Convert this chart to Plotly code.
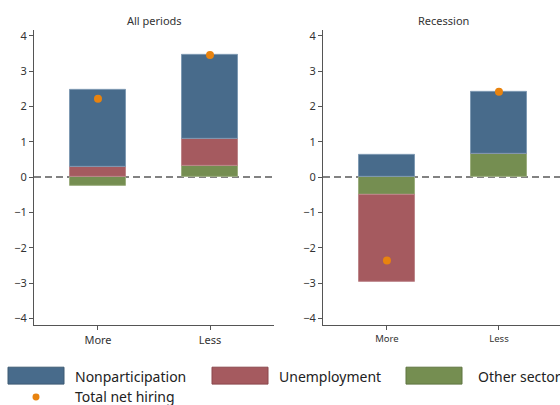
import plotly.graph_objects as go

W, H = 560, 405

categories = ["More", "Less"]
panels = ["All periods", "Recession"]

# values per panel: [More, Less]
other_sector = {"All periods": [-0.25, 0.32], "Recession": [-0.49, 0.65]}
unemployment = {"All periods": [0.30, 0.77], "Recession": [-2.49, 0.0]}
nonparticipation = {"All periods": [2.17, 2.37], "Recession": [0.64, 1.77]}
total_net_hiring = {"All periods": [2.22, 3.46], "Recession": [-2.36, 2.42]}

series_names = ["Nonparticipation", "Unemployment", "Other sector"]
colors = {"Nonparticipation": "#486b8b", "Unemployment": "#a55a5f", "Other sector": "#758e51"}
edge = {"Nonparticipation": "#7f9ab3", "Unemployment": "#bd868a", "Other sector": "#9cae7f"}
legend_edge = {"Nonparticipation": "#3d5a73", "Unemployment": "#8a474c", "Other sector": "#5f7540"}
dot_color = "#e8830f"

FONT = "Noto Sans"

fig = go.Figure()
for i, p in enumerate(panels):
    xa = "x" if i == 0 else "x2"
    ya = "y" if i == 0 else "y2"
    for name, data in [("Other sector", other_sector), ("Unemployment", unemployment),
                       ("Nonparticipation", nonparticipation)]:
        fig.add_trace(go.Bar(
            x=categories, y=data[p], name=name, width=0.5,
            marker=dict(color=colors[name], line=dict(color=edge[name], width=1)),
            xaxis=xa, yaxis=ya, showlegend=False))
    fig.add_trace(go.Scatter(
        x=categories, y=total_net_hiring[p], mode="markers", name="Total net hiring",
        marker=dict(color=dot_color, size=8), xaxis=xa, yaxis=ya, showlegend=False))

def px_x(v):
    return v / W

def px_y(v):
    return 1 - v / H

ydom = [px_y(325), px_y(28)]
axis_common = dict(showline=True, linecolor="#555555", linewidth=1, ticks="outside",
                   tickcolor="#555555", ticklen=4, showgrid=False, zeroline=False)

fig.update_layout(
    width=W, height=H, margin=dict(l=0, r=0, t=0, b=0),
    paper_bgcolor="white", plot_bgcolor="white",
    barmode="relative", bargap=0,
    font=dict(family=FONT, color="#333333"),
    xaxis=dict(domain=[px_x(34), px_x(274)], anchor="y", type="category",
               range=[-0.571, 1.571], tickfont=dict(size=11), **axis_common),
    yaxis=dict(domain=ydom, anchor="x", range=[-4.2, 4.17],
               tickvals=[-4, -3, -2, -1, 0, 1, 2, 3, 4], tickfont=dict(size=11), **axis_common),
    xaxis2=dict(domain=[px_x(323), 1], anchor="y2", type="category",
                range=[-0.571, 1.545], tickfont=dict(size=9.5), **axis_common),
    yaxis2=dict(domain=ydom, anchor="x2", range=[-4.2, 4.17],
                tickvals=[-4, -3, -2, -1, 0, 1, 2, 3, 4], tickfont=dict(size=11), **axis_common),
)

shapes = []
for xa, ya in [("x", "y"), ("x2", "y2")]:
    shapes.append(dict(type="line", xref=f"{xa} domain", yref=ya, x0=0, x1=1, y0=0, y1=0,
                       line=dict(color="#5a5a5a", width=1.5, dash="7px,4px"), layer="below"))

annotations = [
    dict(text="All periods", x=px_x(154), y=px_y(19), xref="paper", yref="paper",
         xanchor="center", yanchor="middle",
         showarrow=False, font=dict(size=11, color="#333333")),
    dict(text="Recession", x=px_x(443), y=px_y(19), xref="paper", yref="paper",
         xanchor="center", yanchor="middle",
         showarrow=False, font=dict(size=11, color="#333333")),
]

# custom legend
legend_items = [("Nonparticipation", 8, 73), ("Unemployment", 212, 277), ("Other sector", 406, 476)]
for name, x0, tx in legend_items:
    shapes.append(dict(type="rect", xref="paper", yref="paper",
                       x0=px_x(x0), x1=px_x(x0 + 56), y0=px_y(384), y1=px_y(367),
                       fillcolor=colors[name], line=dict(color=legend_edge[name], width=1)))
    annotations.append(dict(text=name, x=px_x(tx), y=px_y(376), xref="paper", yref="paper",
                            xanchor="left", yanchor="middle", showarrow=False,
                            font=dict(size=14, color="#222222")))
shapes.append(dict(type="circle", xref="paper", yref="paper",
                   x0=px_x(32.5), x1=px_x(39.5), y0=px_y(400.5), y1=px_y(393.5),
                   fillcolor=dot_color, line=dict(width=0)))
annotations.append(dict(text="Total net hiring", x=px_x(73), y=px_y(396), xref="paper", yref="paper",
                        xanchor="left", yanchor="middle", showarrow=False,
                        font=dict(size=14, color="#222222")))

fig.update_layout(shapes=shapes, annotations=annotations)
fig.write_html("out.html", config={"displayModeBar": False},
               post_script="document.body.style.margin='0';document.body.style.overflow='hidden';")
